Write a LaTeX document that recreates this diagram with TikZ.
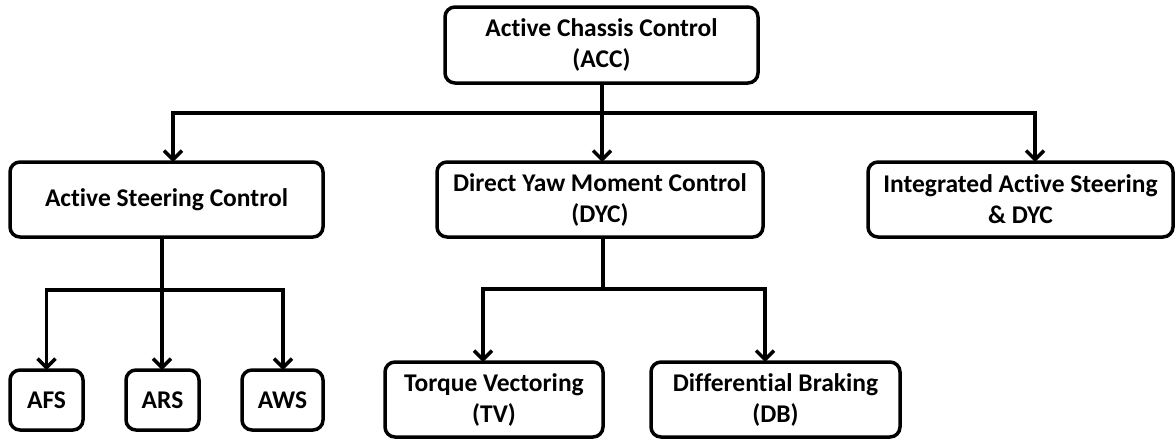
\documentclass[tikz,border=0pt]{standalone}
\usepackage{fontspec}
\setmainfont{Carlito}[Ligatures={NoCommon}]
\usetikzlibrary{arrows.meta}
\tikzset{
  box/.style={draw, line width=3.5pt, rounded corners=10pt, align=center, inner sep=0pt, outer sep=0pt,
    font=\fontsize{25.5}{31}\selectfont\bfseries},
  conn/.style={line width=3.5pt},
  arr/.style={line width=3.5pt, -{Straight Barb[length=9pt,width=18pt,line width=3.5pt]}},
}
\begin{document}
\begin{tikzpicture}[x=1pt,y=-1pt]
\useasboundingbox (0,0) rectangle (1175,440);
\node[box, minimum width=313pt, minimum height=76pt] (acc) at (601.5,45) {Active Chassis Control\\(ACC)};
\node[box, minimum width=313pt, minimum height=75pt] (asc) at (166.5,199.5) {Active Steering Control};
\node[box, minimum width=326pt, minimum height=75pt] (dyc) at (600,199.5) {Direct Yaw Moment Control\\(DYC)};
\node[box, minimum width=305pt, minimum height=75pt] (ias) at (1020.5,199.5) {Integrated Active Steering\\\& DYC};
\node[box, minimum width=73pt, minimum height=60pt] (afs) at (46.5,400) {AFS};
\node[box, minimum width=73pt, minimum height=60pt] (ars) at (162.5,400) {ARS};
\node[box, minimum width=81pt, minimum height=60pt] (aws) at (282.5,400) {AWS};
\node[box, minimum width=218pt, minimum height=75pt] (tv) at (494,399.5) {Torque Vectoring\\(TV)};
\node[box, minimum width=249pt, minimum height=75pt] (db) at (775.5,399.5) {Differential Braking\\(DB)};
% top level
\coordinate (b1) at (602,113);
\draw[conn] ([xshift=0.5pt]acc.south) -- (b1);
\draw[arr] (b1) -| ([xshift=6.5pt]asc.north);
\draw[arr] (b1) -- ([xshift=2pt]dyc.north);
\draw[arr] (b1) -| ([xshift=14.5pt]ias.north);
% steering
\coordinate (b2) at (162,290);
\draw[conn] ([xshift=-4.5pt]asc.south) -- (b2);
\draw[arr] (b2) -| (afs.north);
\draw[arr] (b2) -- ([xshift=-0.5pt]ars.north);
\draw[arr] (b2) -| ([xshift=0.5pt]aws.north);
% dyc
\coordinate (b3) at (603,289);
\draw[conn] ([xshift=3pt]dyc.south) -- (b3);
\draw[arr] (b3) -| ([xshift=-11pt]tv.north);
\draw[arr] (b3) -| ([xshift=-10.5pt]db.north);
\end{tikzpicture}
\end{document}
